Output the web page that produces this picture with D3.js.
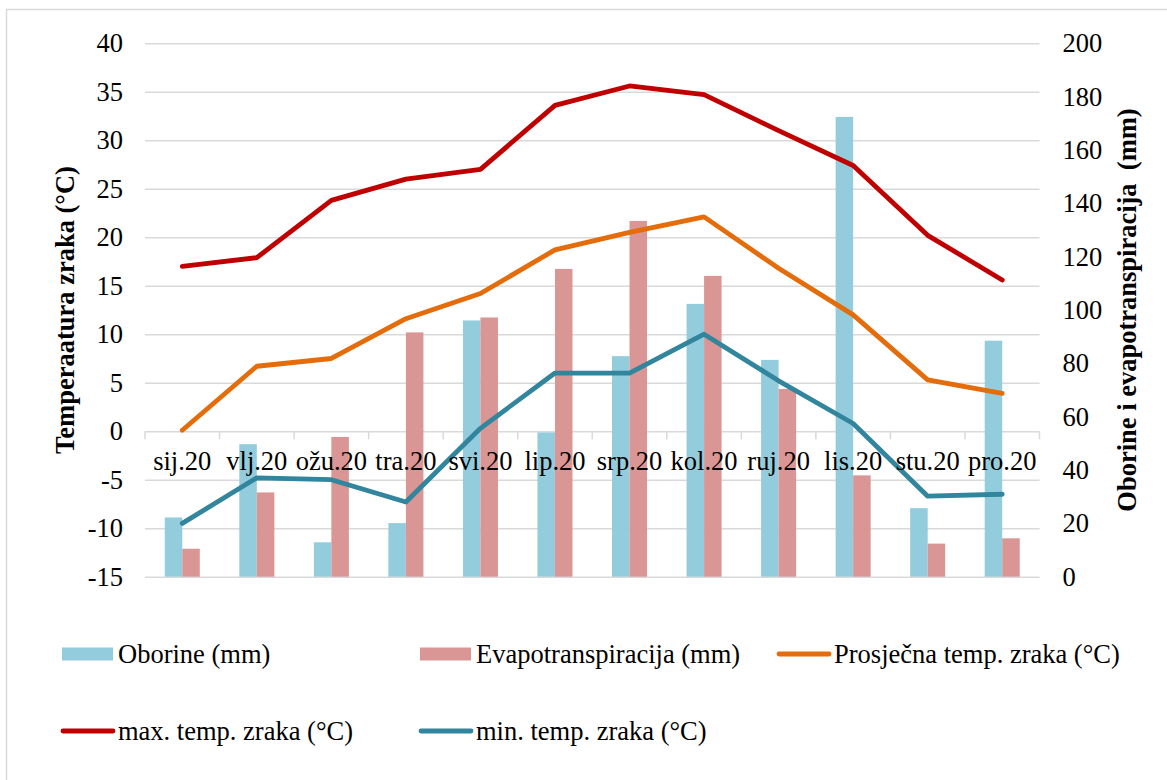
<!DOCTYPE html>
<html>
<head>
<meta charset="utf-8">
<script src="https://cdn.jsdelivr.net/npm/d3@7"></script>
<style>
  body { margin: 0; background: #fff; }
  svg { display: block; }
</style>
</head>
<body>
<svg id="chart" width="1167" height="780"></svg>
<script>
const months = ['sij.20', 'vlj.20', 'ožu.20', 'tra.20', 'svi.20', 'lip.20', 'srp.20', 'kol.20', 'ruj.20', 'lis.20', 'stu.20', 'pro.20'];
const oborine = [22.2, 49.7, 12.9, 20.1, 96.1, 54.1, 82.7, 102.3, 81.3, 172.4, 25.7, 88.5];
const evapo = [10.5, 31.6, 52.4, 91.6, 97.2, 115.4, 133.4, 112.8, 70.4, 38.0, 12.4, 14.4];
const tempAvg = [0.1, 6.7, 7.5, 11.6, 14.2, 18.7, 20.5, 22.1, 16.8, 12.0, 5.3, 3.9];
const tempMax = [17.0, 17.9, 23.8, 26.0, 27.0, 33.6, 35.6, 34.7, 31.0, 27.4, 20.2, 15.6];
const tempMin = [-9.5, -4.8, -5.0, -7.3, 0.3, 6.0, 6.0, 10.0, 5.2, 0.8, -6.7, -6.5];
const tempTicks = [-15, -10, -5, 0, 5, 10, 15, 20, 25, 30, 35, 40];
const mmTicks = [0, 20, 40, 60, 80, 100, 120, 140, 160, 180, 200];

const svg = d3.select('#chart');
const plotLeft = 145;
const plotRight = 1039.5;
const plotTop = 43.3;
const plotBottom = 576.7;

const gridColor = '#d9d9d9';
const textColor = '#000';
const serif = '"Liberation Serif"';
const fontSize = '26.5px';

// chart border
svg.append('rect')
  .attr('x', 6.5)
  .attr('y', 9.5)
  .attr('width', 1170)
  .attr('height', 800)
  .attr('fill', 'none')
  .attr('stroke', gridColor)
  .attr('stroke-width', 1.5);

const x = d3.scaleBand().domain(months).range([plotLeft, plotRight]).padding(0);
const yT = d3.scaleLinear().domain([-15, 40]).range([plotBottom, plotTop]);
const yMm = d3.scaleLinear().domain([0, 200]).range([plotBottom, plotTop]);

// gridlines
const gridG = svg.append('g')
  .attr('transform', `translate(${plotLeft},0)`)
  .call(d3.axisLeft(yT).tickValues(tempTicks).tickSize(-(plotRight - plotLeft)).tickFormat(''));
gridG.select('.domain').remove();
gridG.selectAll('line').attr('stroke', gridColor).attr('stroke-width', 1.5);

// left axis labels
const leftAxis = svg.append('g')
  .attr('transform', `translate(${plotLeft - 22},0)`)
  .call(d3.axisLeft(yT).tickValues(tempTicks).tickSize(0).tickPadding(0).tickFormat(d => d < 0 ? '-' + Math.abs(d) : d));
leftAxis.select('.domain').remove();
leftAxis.selectAll('text')
  .style('font-family', serif)
  .style('font-size', fontSize)
  .attr('fill', textColor);

// right axis labels
const rightAxis = svg.append('g')
  .attr('transform', `translate(${plotRight + 23},0)`)
  .call(d3.axisRight(yMm).tickValues(mmTicks).tickSize(0).tickPadding(0));
rightAxis.select('.domain').remove();
rightAxis.selectAll('text')
  .style('font-family', serif)
  .style('font-size', fontSize)
  .attr('fill', textColor);

// tick marks at band boundaries
const zeroY = yT(0);
const boundaries = months.map(m => x(m)).concat([plotRight]);
svg.append('g').selectAll('line')
  .data(boundaries)
  .join('line')
  .attr('x1', d => d)
  .attr('x2', d => d)
  .attr('y1', zeroY)
  .attr('y2', zeroY + 8)
  .attr('stroke', gridColor)
  .attr('stroke-width', 1.5);

// bars
const barW = x.bandwidth() * 0.235;
const barsG = svg.append('g');
barsG.selectAll('rect.obo')
  .data(oborine)
  .join('rect')
  .attr('class', 'obo')
  .attr('x', (d, i) => x(months[i]) + x.bandwidth() / 2 - barW)
  .attr('width', barW)
  .attr('y', d => yMm(d))
  .attr('height', d => yMm(0) - yMm(d))
  .attr('fill', '#93cddd');
barsG.selectAll('rect.evap')
  .data(evapo)
  .join('rect')
  .attr('class', 'evap')
  .attr('x', (d, i) => x(months[i]) + x.bandwidth() / 2)
  .attr('width', barW)
  .attr('y', d => yMm(d))
  .attr('height', d => yMm(0) - yMm(d))
  .attr('fill', '#d99694');

// lines
const line = d3.line()
  .x((d, i) => x(months[i]) + x.bandwidth() / 2)
  .y(d => yT(d));

const series = [
  { values: tempAvg, color: '#e46c0a' },
  { values: tempMax, color: '#c00000' },
  { values: tempMin, color: '#31859c' }
];
series.forEach(s => {
  svg.append('path')
    .datum(s.values)
    .attr('d', line)
    .attr('fill', 'none')
    .attr('stroke', s.color)
    .attr('stroke-width', 4.8)
    .attr('stroke-linejoin', 'round')
    .attr('stroke-linecap', 'round');
});

// category axis at zero (drawn on top)
const catAxis = svg.append('g')
  .attr('transform', `translate(0,${zeroY})`)
  .call(d3.axisBottom(x).tickSize(0).tickPadding(0));
catAxis.select('.domain').remove();
catAxis.selectAll('text')
  .style('font-family', serif)
  .style('font-size', fontSize)
  .attr('fill', textColor)
  .attr('y', 39)
  .attr('dy', 0);

// axis titles
svg.append('text')
  .attr('transform', `translate(74,${(plotTop + plotBottom) / 2}) rotate(-90)`)
  .attr('text-anchor', 'middle')
  .style('font-family', serif)
  .style('font-size', fontSize)
  .style('font-weight', 'bold')
  .attr('fill', textColor)
  .text('Temperaatura zraka (°C)');

svg.append('text')
  .attr('transform', `translate(1136,${(plotTop + plotBottom) / 2}) rotate(-90)`)
  .attr('text-anchor', 'middle')
  .style('font-family', serif)
  .style('font-size', fontSize)
  .style('font-weight', 'bold')
  .attr('fill', textColor)
  .style('white-space', 'pre')
  .text('Oborine i evapotranspiracija  (mm)');

// legend
const legendItems = [
  { label: 'Oborine (mm)', type: 'bar', color: '#93cddd', x: 62, y: 654 },
  { label: 'Evapotranspiracija (mm)', type: 'bar', color: '#d99694', x: 420, y: 654 },
  { label: 'Prosječna temp. zraka (°C)', type: 'line', color: '#e46c0a', x: 778, y: 654 },
  { label: 'max. temp. zraka (°C)', type: 'line', color: '#c00000', x: 62, y: 731 },
  { label: 'min. temp. zraka (°C)', type: 'line', color: '#31859c', x: 420, y: 731 }
];
const legend = svg.append('g');
legendItems.forEach(it => {
  const g = legend.append('g').attr('transform', `translate(${it.x},${it.y})`);
  if (it.type === 'bar') {
    g.append('rect')
      .attr('x', 0).attr('y', -6.5)
      .attr('width', 51).attr('height', 13)
      .attr('fill', it.color);
  } else {
    g.append('line')
      .attr('x1', 1).attr('x2', 51)
      .attr('y1', 0).attr('y2', 0)
      .attr('stroke', it.color)
      .attr('stroke-width', 4.8)
      .attr('stroke-linecap', 'round');
  }
  g.append('text')
    .attr('x', 56)
    .attr('y', 0)
    .attr('dy', '0.33em')
    .style('font-family', serif)
    .style('font-size', fontSize)
    .attr('fill', textColor)
    .text(it.label);
});
</script>
</body>
</html>
